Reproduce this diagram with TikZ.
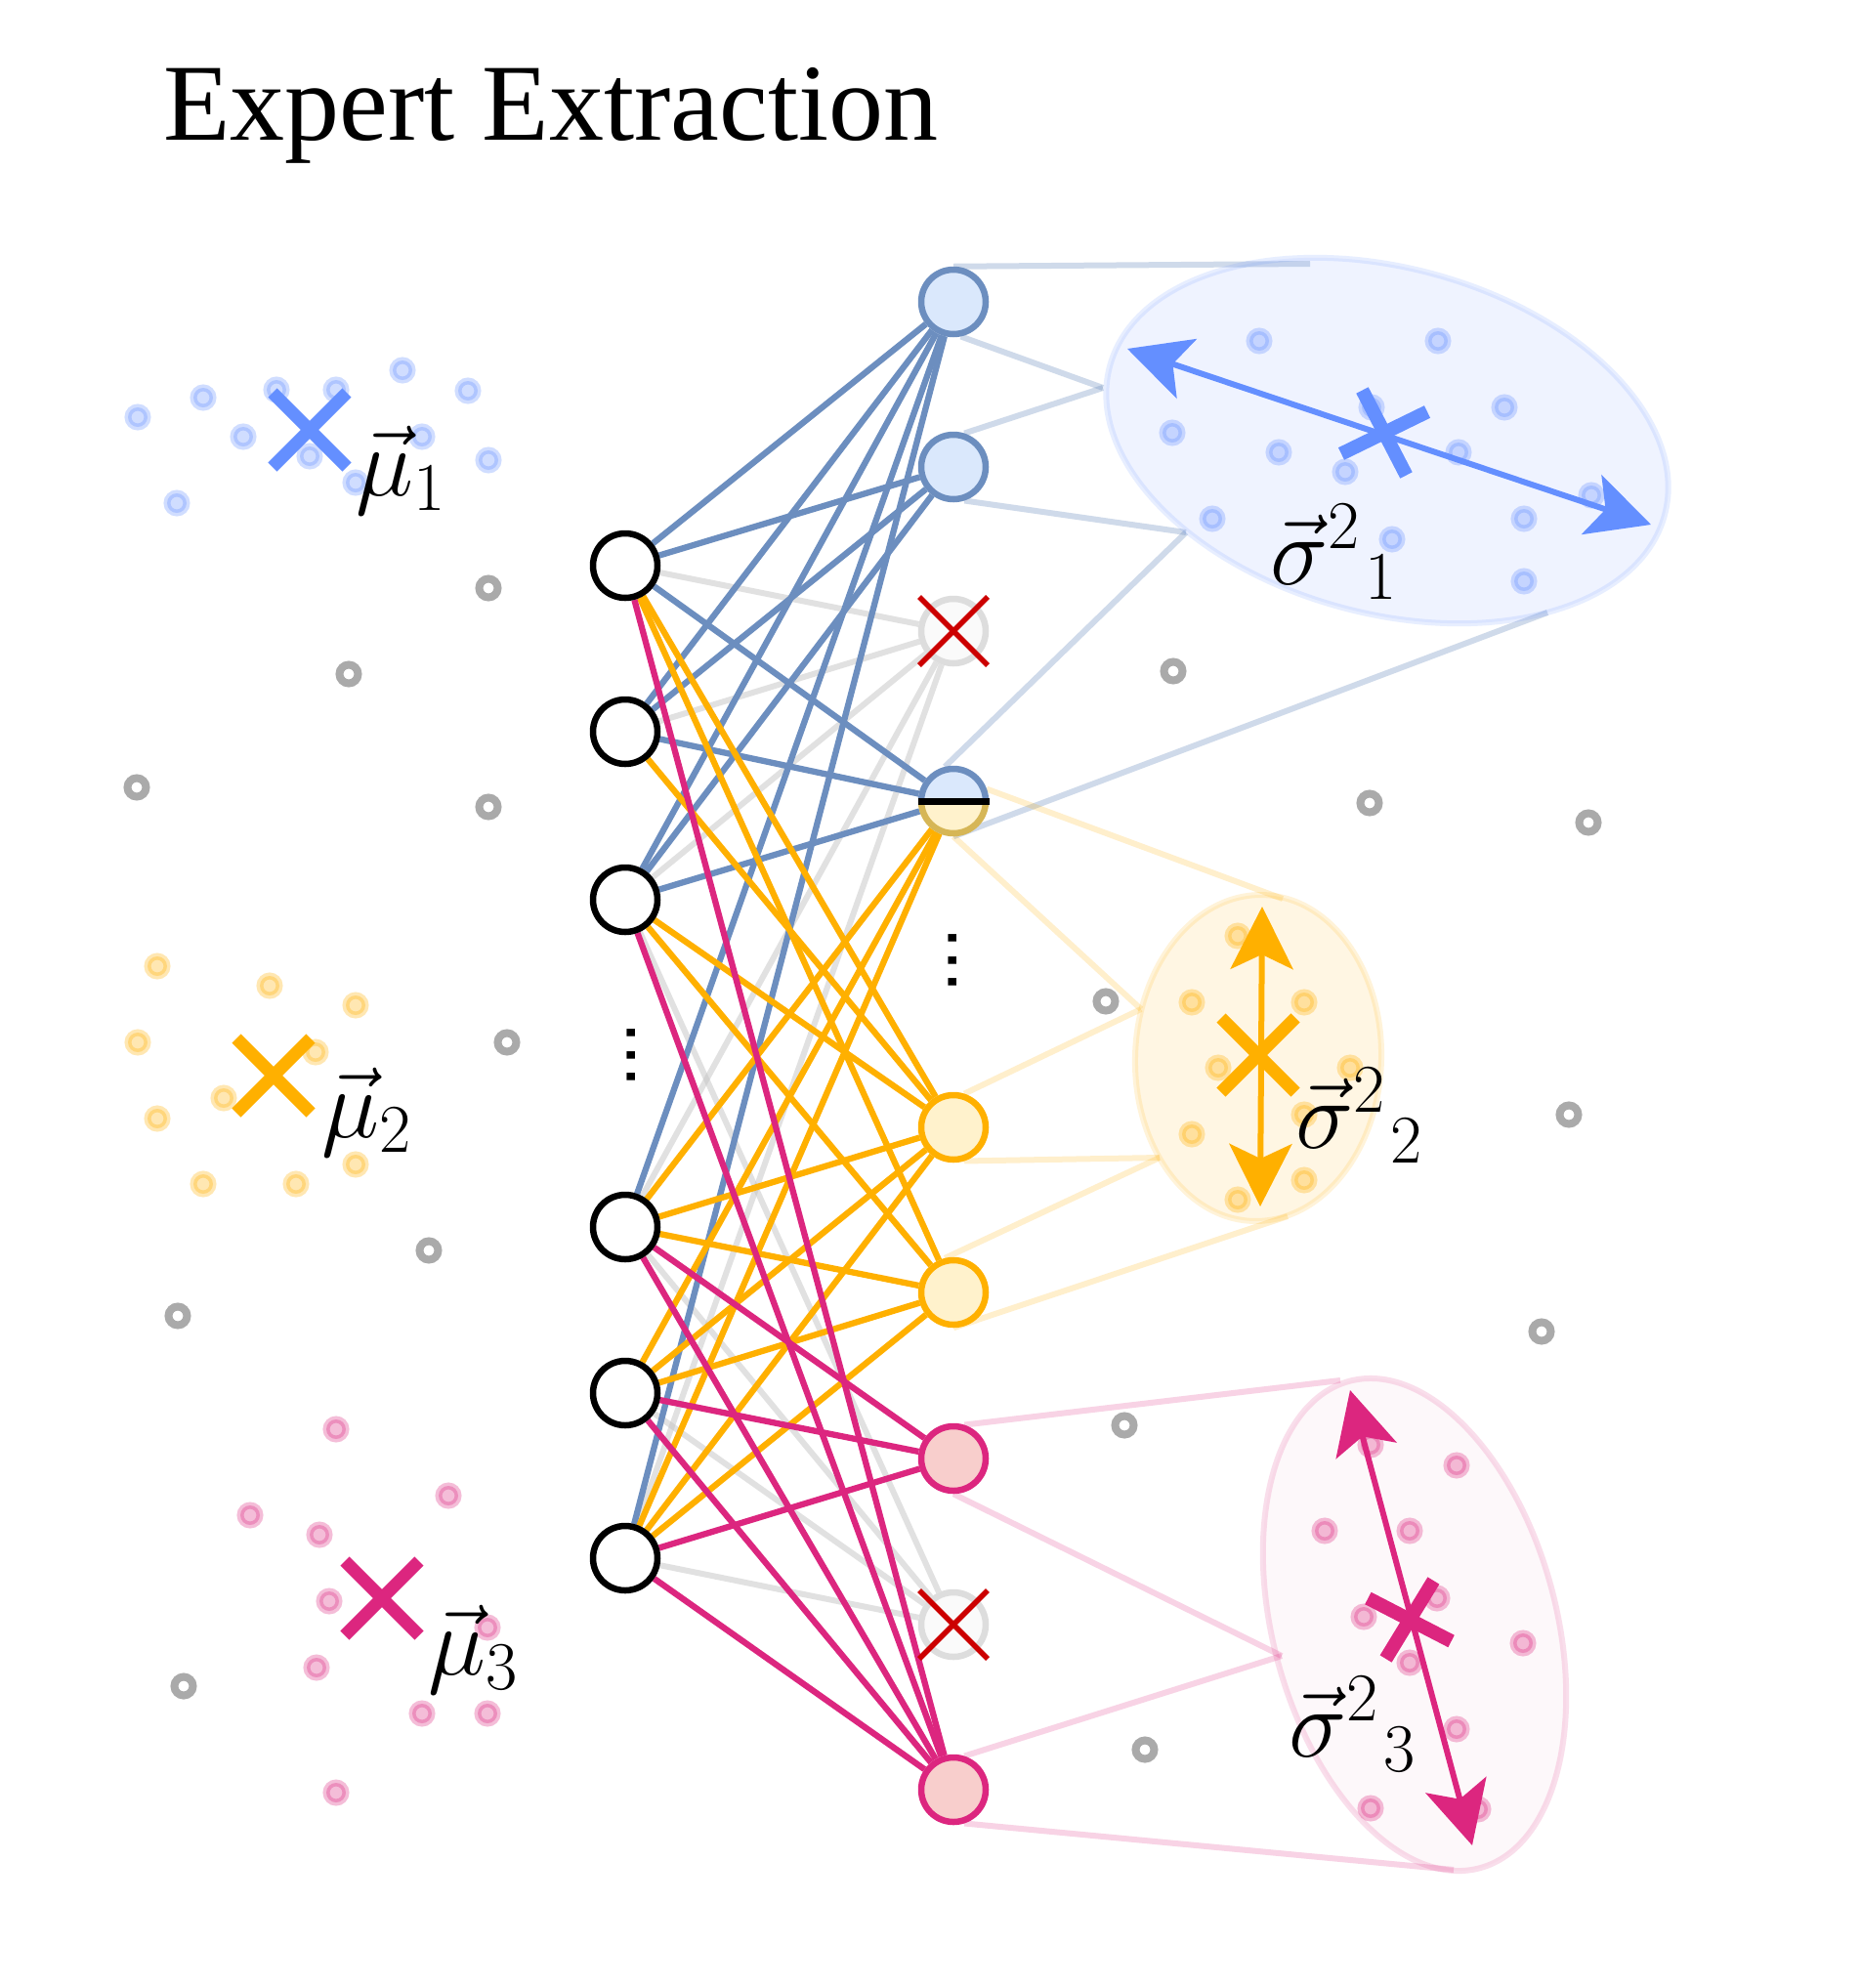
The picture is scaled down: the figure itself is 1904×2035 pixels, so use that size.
\RequirePackage{fix-cm}
\documentclass[tikz,border=0pt]{standalone}
\usepackage{graphicx}
\usepackage{fontspec}
\newfontfamily\titlefont{Liberation Serif}
\newfontfamily\dotfont{Liberation Sans}
\usetikzlibrary{arrows.meta}
\pgfdeclarelayer{back}
\pgfsetlayers{back,main}
\definecolor{eblue}{HTML}{6C8EBF}
\definecolor{efill}{HTML}{DAE8FC}
\definecolor{cblue}{HTML}{648FFF}
\definecolor{cgold}{HTML}{FFB000}
\definecolor{cpink}{HTML}{DC267F}
\definecolor{ofill}{HTML}{FFF2CC}
\definecolor{pfill}{HTML}{F8CECC}
\definecolor{hgold}{HTML}{D6B656}
\definecolor{xred}{HTML}{CC0000}
\definecolor{greyedge}{HTML}{C4C4C4}
\definecolor{greydot}{HTML}{AAAAAA}
\definecolor{xnodeline}{HTML}{DDDDDD}
\definecolor{xnodefill}{HTML}{FAFAFA}
\tikzset{
  nbase/.style={circle, line width=6.5pt, minimum size=66pt, inner sep=0pt},
  inode/.style={nbase, draw=black, fill=white},
  bnode/.style={nbase, draw=eblue, fill=efill},
  onode/.style={nbase, draw=cgold, fill=ofill},
  pnode/.style={nbase, draw=cpink, fill=pfill},
  dnode/.style={nbase, draw=xnodeline, fill=xnodefill},
  hnode/.style={circle, minimum size=66pt, inner sep=0pt, outer sep=3.25pt},
  bedge/.style={eblue, line width=6.3pt},
  oedge/.style={cgold, line width=6.3pt},
  pedge/.style={cpink, line width=6.3pt},
  gredge/.style={greyedge, line width=6pt, draw opacity=0.5},
  bcall/.style={eblue, line width=6pt, draw opacity=0.32},
  ocall/.style={cgold, line width=6pt, draw opacity=0.2},
  pcall/.style={cpink, line width=6pt, draw opacity=0.2},
  cdot/.style={draw=#1, fill=#1, draw opacity=0.3, fill opacity=0.3, line width=7pt},
  gring/.style={draw=greydot, fill=white, line width=8pt},
  xmark/.style={#1, line width=13pt},
  redx/.style={xred, line width=5.5pt},
  bigarrow/.style={#1, line width=6pt, arrows={Stealth[length=64pt,width=64pt,inset=15pt]-Stealth[length=64pt,width=64pt,inset=15pt]}},
  lbl/.style={inner sep=0pt, anchor=base west, font=\fontsize{100}{120}\selectfont},
  vdotsnode/.style={inner sep=0pt, rotate=90, font=\dotfont\fontsize{80}{96}\selectfont},
}
\begin{document}
\begin{tikzpicture}[x=1pt,y=-1pt]
\begin{pgfonlayer}{back}
\fill[white] (0,0) rectangle (1904,2035);
\end{pgfonlayer}
\useasboundingbox (0,0) rectangle (1904,2035);

% title
\node[anchor=base west, inner sep=0pt, font=\titlefont\fontsize{112}{130}\selectfont] (title) at (167,143) {Expert Extraction};

% input nodes
\node[inode] (I1) at (640,579) {};
\node[inode] (I2) at (640,749) {};
\node[inode] (I3) at (640,921) {};
\node[inode] (I4) at (640,1256) {};
\node[inode] (I5) at (640,1426) {};
\node[inode] (I6) at (640,1595) {};
% output nodes
\node[bnode] (O1) at (976,309) {};
\node[bnode] (O2) at (976,478) {};
\node[dnode] (O3) at (976,646) {};
\node[hnode] (O4) at (976,820) {};
\node[onode] (O5) at (976,1154) {};
\node[onode] (O6) at (976,1323) {};
\node[pnode] (O7) at (976,1493) {};
\node[dnode] (O8) at (976,1663) {};
\node[pnode] (O9) at (976,1832) {};

% half node
\fill[efill] (O4.center) ++(33pt,0pt) arc[start angle=0,end angle=180,radius=33pt] -- cycle;
\fill[ofill] (O4.center) ++(33pt,0pt) arc[start angle=0,end angle=-180,radius=33pt] -- cycle;
\draw[eblue, line width=6.5pt] (O4.center) ++(33pt,0pt) arc[start angle=0,end angle=180,radius=33pt];
\draw[hgold, line width=6.5pt] (O4.center) ++(33pt,0pt) arc[start angle=0,end angle=-180,radius=33pt];
\draw[black, line width=7pt] (O4.center) ++(-36.5pt,0pt) -- ++(73pt,0pt);

% red crosses on dropped nodes
\draw[redx] (O3.center) +(-35,-35) -- +(35,35) (O3.center) +(-35,35) -- +(35,-35);
\draw[redx] (O8.center) +(-35,-35) -- +(35,35) (O8.center) +(-35,35) -- +(35,-35);

% vertical dots
\node[vdotsnode] (vdin) at (646,1080) {...};
\node[vdotsnode] (vdout) at (975,983) {...};

% ellipse anchor points
\coordinate (E1) at (1420,451);
\coordinate (E2) at (1288,1083);
\coordinate (E3) at (1448,1663);
\coordinate (B1) at (1341,270);
\coordinate (B2) at (1129,397);
\coordinate (B3) at (1214,545);
\coordinate (B4) at (1584,627);
\coordinate (Y1) at (1313,920);
\coordinate (Y2) at (1168,1033);
\coordinate (Y3) at (1187,1185);
\coordinate (Y4) at (1318,1245);
\coordinate (P1) at (1372,1413);
\coordinate (P2) at (1312,1695);
\coordinate (P3) at (1488,1914);

\begin{pgfonlayer}{back}
% callout lines
\draw[bcall] (O1.90) -- (B1);
\draw[bcall] (O1.-78) -- (B2);
\draw[bcall] (O2.72) -- (B2);
\draw[bcall] (O2.-72) -- (B3);
\draw[bcall] (O4.104) -- (B3);
\draw[bcall] (O4.-90) -- (B4);
\draw[ocall] (O4.20) -- (Y1);
\draw[ocall] (O4.-90) -- (Y2);
\draw[ocall] (O5.72) -- (Y2);
\draw[ocall] (O5.-72) -- (Y3);
\draw[ocall] (O6.104) -- (Y3);
\draw[ocall] (O6.-90) -- (Y4);
\draw[pcall] (O7.72) -- (P1);
\draw[pcall] (O7.-90) -- (P2);
\draw[pcall] (O9.72) -- (P2);
\draw[pcall] (O9.-72) -- (P3);
% ellipses
\draw[rotate around={-15:(E1)}, draw=cblue, draw opacity=0.15, fill=cblue, fill opacity=0.1, line width=6pt] (E1) ellipse [x radius=294pt, y radius=177pt];
\draw[rotate around={-2:(E2)}, draw=cgold, draw opacity=0.15, fill=cgold, fill opacity=0.11, line width=6pt] (E2) ellipse [x radius=126pt, y radius=167pt];
\draw[rotate around={-75:(E3)}, draw=cpink, draw opacity=0.15, fill=cpink, fill opacity=0.03, line width=6pt] (E3) ellipse [x radius=258pt, y radius=145pt];
% network edges: dropped (grey) first, coloured on top
\foreach \a/\b in {I1/O3,I2/O3,I3/O3,I4/O3,I6/O3,I3/O8,I4/O8,I5/O8,I6/O8}
  \draw[gredge] (\a) -- (\b);
\foreach \a/\b in {I1/O1,I2/O1,I3/O1,I4/O1,I6/O1,I1/O2,I2/O2,I3/O2,I1/O4,I2/O4,I3/O4}
  \draw[bedge] (\a) -- (\b);
\foreach \a/\b in {I4/O4,I5/O4,I6/O4,I1/O5,I2/O5,I3/O5,I4/O5,I5/O5,I6/O5,I1/O6,I3/O6,I4/O6,I5/O6,I6/O6}
  \draw[oedge] (\a) -- (\b);
\foreach \a/\b in {I4/O7,I5/O7,I6/O7,I1/O9,I3/O9,I4/O9,I5/O9,I6/O9}
  \draw[pedge] (\a) -- (\b);
\end{pgfonlayer}

% scattered points
\foreach \p in {(141,427),(208,407),(283,399),(344,399),(412,379),(479,400),(249,447),(317,467),(432,447),(500,471),(364,494),(181,515),
  (1289,349),(1472,349),(1200,443),(1309,463),(1377,483),(1404,417),(1540,417),(1493,463),(1629,507),(1241,531),(1425,552),(1560,531),(1560,595)}
  \draw[cdot=cblue] \p circle[radius=10pt];
\foreach \p in {(161,989),(276,1009),(364,1029),(141,1067),(323,1077),(229,1124),(161,1145),(364,1192),(208,1212),(303,1212),
  (1267,958),(1220,1026),(1335,1026),(1247,1093),(1382,1093),(1335,1141),(1220,1161),(1335,1208),(1267,1228)}
  \draw[cdot=cgold] \p circle[radius=10pt];
\foreach \p in {(344,1463),(459,1531),(256,1551),(327,1571),(337,1639),(499,1666),(324,1707),(432,1754),(499,1754),(344,1835),
  (1403,1479),(1491,1500),(1356,1567),(1443,1567),(1471,1636),(1396,1655),(1559,1682),(1443,1702),(1491,1770),(1403,1851),(1513,1852)}
  \draw[cdot=cpink] \p circle[radius=10pt];
\foreach \p in {(500,602),(357,690),(140,806),(500,826),(519,1067),(439,1280),(182,1347),(188,1726),
  (1201,687),(1402,822),(1626,842),(1132,1025),(1606,1141),(1578,1363),(1151,1459),(1172,1791)}
  \draw[gring] \p circle[radius=9.5pt];

% cluster means
\coordinate (M1) at (317,440);
\coordinate (M2) at (280,1101);
\coordinate (M3) at (391,1636);
\draw[xmark=cblue] (M1) +(-38,-38) -- +(38,38) (M1) +(-38,38) -- +(38,-38);
\draw[xmark=cgold] (M2) +(-38,-38) -- +(38,38) (M2) +(-38,38) -- +(38,-38);
\draw[xmark=cpink] (M3) +(-38,-38) -- +(38,38) (M3) +(-38,38) -- +(38,-38);

% variance arrows
\coordinate (A1a) at (1154,357);
\coordinate (A1b) at (1690,537);
\coordinate (A2a) at (1292,928);
\coordinate (A2b) at (1290,1235);
\coordinate (A3a) at (1382,1423);
\coordinate (A3b) at (1507,1889);
\draw[bigarrow=cblue] (A1a) -- (A1b);
\draw[bigarrow=cgold] (A2a) -- (A2b);
\draw[bigarrow=cpink] (A3a) -- (A3b);

% ellipse centres
\coordinate (C1) at (1417,443);
\coordinate (C2) at (1288,1080);
\coordinate (C3) at (1443,1658);
\draw[xmark=cblue, line width=14pt] (C1) +(-22.5,-43.5) -- +(22.5,43.5) (C1) +(-44,21.5) -- +(44,-21.5);
\draw[xmark=cgold] (C2) +(-38,-38) -- +(38,38) (C2) +(-38,38) -- +(38,-38);
\draw[xmark=cpink, line width=14pt] (C3) +(-42.6,-22) -- +(42.6,22) (C3) +(24.4,-40) -- +(-24.4,40);

% labels
\node[lbl] (mu1) at (364,507) {$\vec{\mu}_1$};
\node[lbl] (mu2) at (329,1164) {$\vec{\mu}_2$};
\node[lbl] (mu3) at (438,1714) {$\vec{\mu}_3$};
\node[lbl] (s1) at (1300,598) {$\vec{\sigma}^{2}{\mkern1mu}_{1}$};
\node[lbl] (s2) at (1326,1175) {$\vec{\sigma}^{2}{\mkern1mu}_{2}$};
\node[lbl] (s3) at (1319,1798) {$\vec{\sigma}^{2}{\mkern1mu}_{3}$};
\end{tikzpicture}
\end{document}
